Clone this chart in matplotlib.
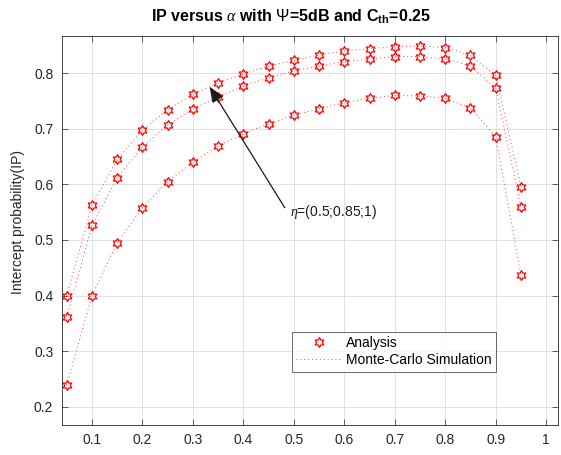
import numpy as np
import matplotlib
matplotlib.use("Agg")
import matplotlib.pyplot as plt
from matplotlib.path import Path

plt.rcParams['font.family'] = ['Liberation Sans', 'DejaVu Sans']
plt.rcParams['mathtext.fontset'] = 'custom'
plt.rcParams['mathtext.rm'] = 'Liberation Sans'
plt.rcParams['mathtext.it'] = 'Liberation Serif:italic'
plt.rcParams['mathtext.bf'] = 'Liberation Sans:bold'

alpha = [0.05, 0.10, 0.15, 0.20, 0.25, 0.30, 0.35, 0.40, 0.45, 0.50,
         0.55, 0.60, 0.65, 0.70, 0.75, 0.80, 0.85, 0.90, 0.95]

ip_high = [0.400, 0.562, 0.645, 0.698, 0.734, 0.762, 0.783, 0.799, 0.813, 0.823,
           0.833, 0.840, 0.844, 0.848, 0.849, 0.846, 0.832, 0.796, 0.596]
ip_mid = [0.362, 0.526, 0.612, 0.668, 0.707, 0.736, 0.757, 0.777, 0.792, 0.804,
          0.813, 0.821, 0.826, 0.830, 0.830, 0.826, 0.813, 0.773, 0.560]
ip_low = [0.239, 0.400, 0.495, 0.558, 0.605, 0.640, 0.669, 0.691, 0.709, 0.725,
          0.736, 0.747, 0.755, 0.760, 0.759, 0.755, 0.737, 0.686, 0.437]

series = [ip_high, ip_mid, ip_low]

xticks = [0.1, 0.2, 0.3, 0.4, 0.5, 0.6, 0.7, 0.8, 0.9, 1.0]
xticklabels = ['0.1', '0.2', '0.3', '0.4', '0.5', '0.6', '0.7', '0.8', '0.9', '1']
yticks = [0.2, 0.3, 0.4, 0.5, 0.6, 0.7, 0.8]
yticklabels = ['0.2', '0.3', '0.4', '0.5', '0.6', '0.7', '0.8']

W, H = 561, 455
fig = plt.figure(figsize=(W / 100, H / 100), dpi=100)
ax = fig.add_axes([61.7 / W, 1 - 425 / H, (557.5 - 61.7) / W, (425 - 36) / H])

hexagram = Path.unit_regular_star(6, 0.577)
red = '#ff0000'

for i, s in enumerate(series):
    ax.plot(alpha, s, linestyle='none', marker=hexagram, markersize=7,
            markerfacecolor='none', markeredgecolor=red, markeredgewidth=0.9,
            label='Analysis' if i == 0 else None, zorder=3)
for i, s in enumerate(series):
    ax.plot(alpha, s, linestyle=(0, (1, 3)), color='#ff4040', linewidth=0.7,
            label='Monte-Carlo Simulation' if i == 0 else None, zorder=2)

ax.set_xlim(0.04, 1.0225)
ax.set_ylim(0.167, 0.867)
ax.set_xticks(xticks)
ax.set_xticklabels(xticklabels)
ax.set_yticks(yticks)
ax.set_yticklabels(yticklabels)
ax.tick_params(direction='in', length=4, width=0.5, colors='#262626',
               labelsize=10, top=True, right=True, pad=6)
for sp in ax.spines.values():
    sp.set_color('#262626')
    sp.set_linewidth(0.6)
ax.grid(True, color='#dcdcdc', linewidth=0.6)
ax.set_axisbelow(True)

# annotation arrow
ax.annotate('', xy=(0.333, 0.776), xytext=(0.482, 0.558),
            arrowprops=dict(arrowstyle='-|>,head_length=0.8,head_width=0.32',
                            color='#1a1a1a', lw=0.9, shrinkA=0, shrinkB=0,
                            mutation_scale=12))
ax.text(0.4915, 0.551, r'$\eta$=(0.5;0.85;1)', fontsize=10, ha='left',
        va='center', color='#1a1a1a')

leg = ax.legend(loc='upper left', bbox_to_anchor=(292.3 / W, 1 - 331.7 / H),
                bbox_transform=fig.transFigure, fontsize=10, frameon=True,
                fancybox=False, borderaxespad=0, borderpad=0.3,
                labelspacing=0.25, handlelength=3.3, handletextpad=0.3,
                numpoints=1)
leg.get_frame().set_edgecolor('#262626')
leg.get_frame().set_linewidth(0.6)

fig.text(291 / W, 1 - 21.7 / H,
         r'IP versus $\alpha$ with $\Psi$=5dB and C$_{\mathbf{th}}$=0.25',
         fontsize=11.5, fontweight='bold', ha='center', va='baseline',
         color='#000000')
fig.text(18 / W, 1 - 221.5 / H, 'Intercept probability(IP)', rotation=90,
         ha='center', va='center', fontsize=10, color='#262626')

fig.savefig('out.png', dpi=100)
